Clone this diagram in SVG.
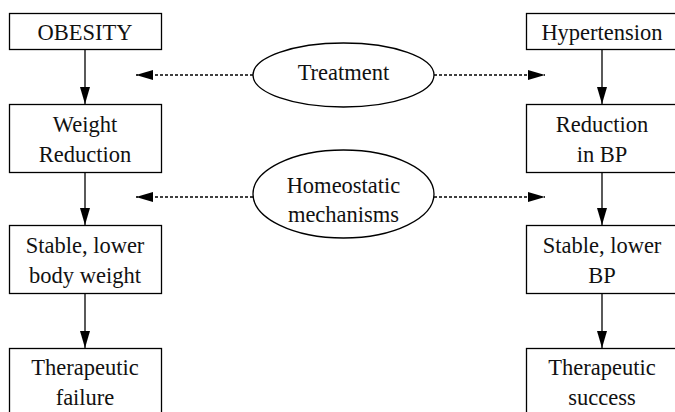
<svg xmlns="http://www.w3.org/2000/svg" width="675" height="412" viewBox="0 0 675 412" font-family="'Liberation Serif', 'Times New Roman', 'DejaVu Serif', serif">
<style>
.box{fill:#fff;stroke:#000;stroke-width:1.3}
.ell{fill:#fff;stroke:#000;stroke-width:1.3}
text{font-family:'Liberation Serif','Times New Roman','DejaVu Serif',serif;font-size:22.5px;fill:#111;text-anchor:middle}
.solid{stroke:#000;stroke-width:1.3;fill:none}
.dash{stroke:#000;stroke-width:1.3;fill:none;stroke-dasharray:3 2}
</style>
<defs>
<marker id="ah" viewBox="0 0 17 10" refX="17" refY="5" markerWidth="17" markerHeight="10" markerUnits="userSpaceOnUse" orient="auto">
<path d="M0,0 L17,5 L0,10 Z" fill="#000"/>
</marker>
</defs>
<g id="connectors">
<line class="solid" x1="85" y1="49" x2="85" y2="104" marker-end="url(#ah)"/>
<line class="solid" x1="85" y1="172" x2="85" y2="225" marker-end="url(#ah)"/>
<line class="solid" x1="85" y1="293" x2="85" y2="348" marker-end="url(#ah)"/>
<line class="solid" x1="602" y1="49" x2="602" y2="104" marker-end="url(#ah)"/>
<line class="solid" x1="602" y1="172" x2="602" y2="225" marker-end="url(#ah)"/>
<line class="solid" x1="602" y1="293" x2="602" y2="348" marker-end="url(#ah)"/>
<line class="dash" x1="253" y1="75" x2="136" y2="75" marker-end="url(#ah)"/>
<line class="dash" x1="434" y1="75" x2="545" y2="75" marker-end="url(#ah)"/>
<line class="dash" x1="253" y1="197" x2="136" y2="197" marker-end="url(#ah)"/>
<line class="dash" x1="434" y1="197" x2="545" y2="197" marker-end="url(#ah)"/>
</g>
<g id="obesity"><rect class="box" x="9.5" y="13.5" width="152" height="36"/><text x="85" y="39.5">OBESITY</text></g>
<g id="weight-reduction"><rect class="box" x="9.5" y="104.5" width="152" height="68"/><text x="85" y="132">Weight</text><text x="85" y="162">Reduction</text></g>
<g id="stable-weight"><rect class="box" x="9.5" y="225.5" width="152" height="68"/><text x="85" y="253">Stable, lower</text><text x="85" y="283">body weight</text></g>
<g id="failure"><rect class="box" x="9.5" y="348.5" width="152" height="80"/><text x="85" y="375">Therapeutic</text><text x="85" y="405">failure</text></g>
<g id="hypertension"><rect class="box" x="526.5" y="13.5" width="152" height="36"/><text x="602" y="39.5">Hypertension</text></g>
<g id="bp-reduction"><rect class="box" x="526.5" y="104.5" width="152" height="68"/><text x="602" y="132">Reduction</text><text x="602" y="162">in BP</text></g>
<g id="stable-bp"><rect class="box" x="526.5" y="225.5" width="152" height="68"/><text x="602" y="253">Stable, lower</text><text x="602" y="283">BP</text></g>
<g id="success"><rect class="box" x="526.5" y="348.5" width="152" height="80"/><text x="602" y="375">Therapeutic</text><text x="602" y="405">success</text></g>
<g id="treatment"><ellipse class="ell" cx="343.5" cy="75" rx="90.5" ry="32"/><text x="343.5" y="80">Treatment</text></g>
<g id="homeostatic"><ellipse class="ell" cx="343.5" cy="194" rx="90.5" ry="44"/><text x="343.5" y="192.5">Homeostatic</text><text x="343.5" y="222">mechanisms</text></g>
</svg>
